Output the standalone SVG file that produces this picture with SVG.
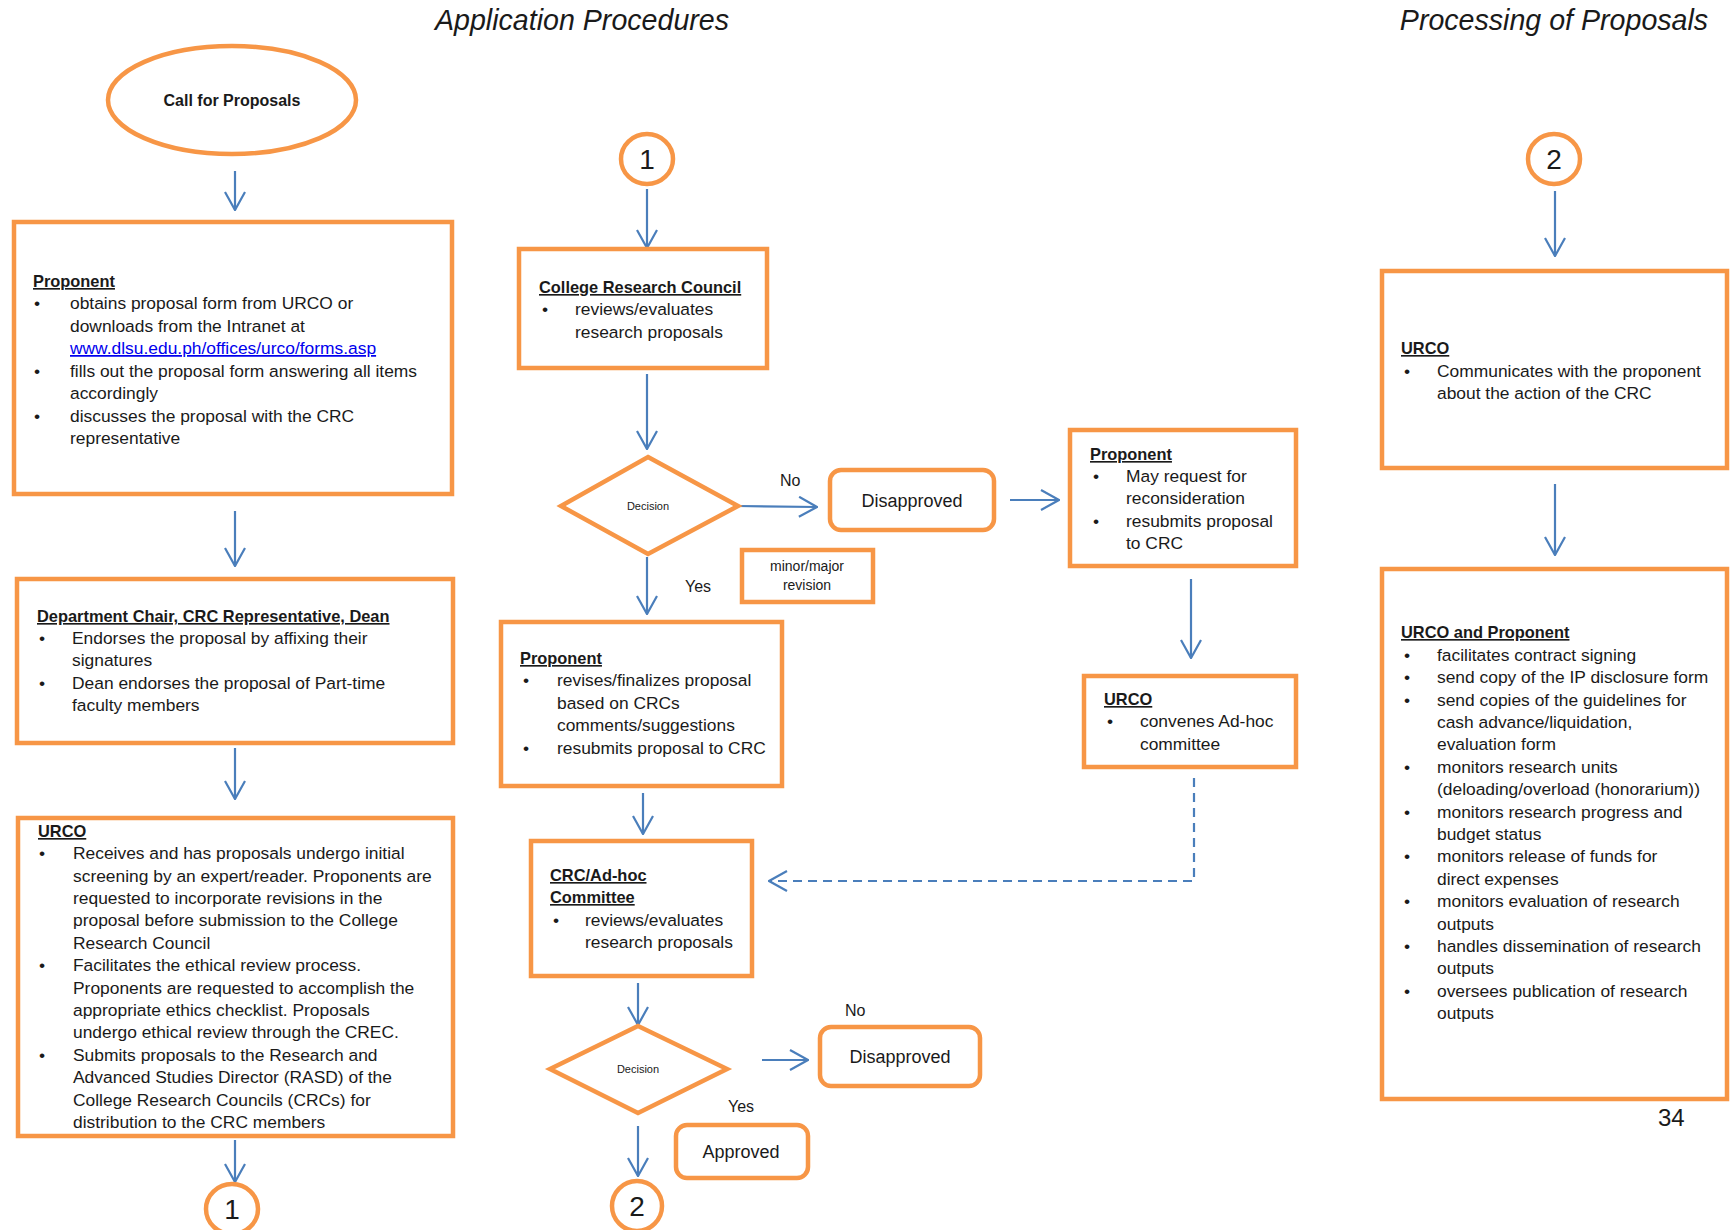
<svg xmlns="http://www.w3.org/2000/svg" width="1735" height="1230" viewBox="0 0 1735 1230">
<style>
text{font-family:"Liberation Sans",Arial,sans-serif;fill:#1a1a1a;}
.box{fill:#fff;stroke:#F79646;stroke-width:4.5;}
.t{font-size:17.4px;}
.h{font-size:16.4px;font-weight:bold;text-decoration:underline;}
.title{font-size:28.6px;font-style:italic;text-anchor:middle;}
.num{font-size:28px;text-anchor:middle;}
.c{text-anchor:middle;}
.lbl{font-size:16px;}
.link{fill:#0000EE;text-decoration:underline;}
.con{fill:none;stroke:#4A7EBB;stroke-width:2.2;}
.dash{stroke-dasharray:9 6;}
</style>
<defs>
<marker id="arr" viewBox="0 0 20 22" refX="19" refY="11" markerWidth="20" markerHeight="22" markerUnits="userSpaceOnUse" orient="auto">
<path d="M1,1 L19,11 L1,21" fill="none" stroke="#4A7EBB" stroke-width="2.2"/>
</marker>
</defs>
<rect width="1735" height="1230" fill="#fff"/>

<text class="title" x="582" y="30">Application Procedures</text>
<text class="title" x="1554" y="30">Processing of Proposals</text>

<g id="connectors">
<line class="con" x1="235" y1="171" x2="235" y2="210" marker-end="url(#arr)"/>
<line class="con" x1="235" y1="511" x2="235" y2="566" marker-end="url(#arr)"/>
<line class="con" x1="235" y1="748" x2="235" y2="799" marker-end="url(#arr)"/>
<line class="con" x1="235" y1="1140" x2="235" y2="1182" marker-end="url(#arr)"/>
<line class="con" x1="647" y1="189" x2="647" y2="248" marker-end="url(#arr)"/>
<line class="con" x1="647" y1="374" x2="647" y2="449" marker-end="url(#arr)"/>
<line class="con" x1="738" y1="506" x2="817" y2="507" marker-end="url(#arr)"/>
<line class="con" x1="1010" y1="500" x2="1059" y2="500" marker-end="url(#arr)"/>
<line class="con" x1="647" y1="557" x2="647" y2="614" marker-end="url(#arr)"/>
<line class="con" x1="1191" y1="579" x2="1191" y2="658" marker-end="url(#arr)"/>
<polyline class="con dash" points="1194,778 1194,881 769,881" marker-end="url(#arr)"/>
<line class="con" x1="643" y1="793" x2="643" y2="834" marker-end="url(#arr)"/>
<line class="con" x1="638" y1="983" x2="638" y2="1025" marker-end="url(#arr)"/>
<line class="con" x1="762" y1="1060" x2="808" y2="1060" marker-end="url(#arr)"/>
<line class="con" x1="638" y1="1126" x2="638" y2="1176" marker-end="url(#arr)"/>
<line class="con" x1="1555" y1="191" x2="1555" y2="256" marker-end="url(#arr)"/>
<line class="con" x1="1555" y1="484" x2="1555" y2="555" marker-end="url(#arr)"/>
</g>

<g id="call-for-proposals">
<ellipse class="box" cx="232" cy="100" rx="124" ry="54"/>
<text class="c" x="232" y="106" style="font-size:16px;font-weight:bold">Call for Proposals</text>
</g>

<g id="proponent-1">
<rect class="box" x="14" y="222" width="438" height="272"/>
<text class="h" x="33" y="287">Proponent</text>
<text class="t"><tspan x="34" y="309">•</tspan><tspan x="70" y="309">obtains proposal form from URCO or</tspan><tspan x="70" y="332">downloads from the Intranet at</tspan></text>
<text class="t link" x="70" y="354">www.dlsu.edu.ph/offices/urco/forms.asp</text>
<text class="t"><tspan x="34" y="377">•</tspan><tspan x="70" y="377">fills out the proposal form answering all items</tspan><tspan x="70" y="399">accordingly</tspan><tspan x="34" y="422">•</tspan><tspan x="70" y="422">discusses the proposal with the CRC</tspan><tspan x="70" y="444">representative</tspan></text>
</g>

<g id="dept-chair">
<rect class="box" x="17" y="579" width="436" height="164"/>
<text class="h" x="37" y="622">Department Chair, CRC Representative, Dean</text>
<text class="t"><tspan x="39" y="644">•</tspan><tspan x="72" y="644">Endorses the proposal by affixing their</tspan><tspan x="72" y="666">signatures</tspan><tspan x="39" y="689">•</tspan><tspan x="72" y="689">Dean endorses the proposal of Part-time</tspan><tspan x="72" y="711">faculty members</tspan></text>
</g>

<g id="urco-1">
<rect class="box" x="18" y="818" width="435" height="318"/>
<text class="h" x="38" y="837">URCO</text>
<text class="t"><tspan x="39" y="859">•</tspan><tspan x="73" y="859">Receives and has proposals undergo initial</tspan><tspan x="73" y="882">screening by an expert/reader. Proponents are</tspan><tspan x="73" y="904">requested to incorporate revisions in the</tspan><tspan x="73" y="926">proposal before submission to the College</tspan><tspan x="73" y="949">Research Council</tspan><tspan x="39" y="971">•</tspan><tspan x="73" y="971">Facilitates the ethical review process.</tspan><tspan x="73" y="994">Proponents are requested to accomplish the</tspan><tspan x="73" y="1016">appropriate ethics checklist. Proposals</tspan><tspan x="73" y="1038">undergo ethical review through the CREC.</tspan><tspan x="39" y="1061">•</tspan><tspan x="73" y="1061">Submits proposals to the Research and</tspan><tspan x="73" y="1083">Advanced Studies Director (RASD) of the</tspan><tspan x="73" y="1106">College Research Councils (CRCs) for</tspan><tspan x="73" y="1128">distribution to the CRC members</tspan></text>
</g>

<g id="connector-1-out">
<ellipse class="box" cx="232" cy="1209" rx="26" ry="25"/>
<text class="num" x="232" y="1219">1</text>
</g>

<g id="connector-1-in">
<ellipse class="box" cx="647" cy="159" rx="26" ry="25"/>
<text class="num" x="647" y="169">1</text>
</g>

<g id="college-research-council">
<rect class="box" x="519" y="249" width="248" height="119"/>
<text class="h" x="539" y="293">College Research Council</text>
<text class="t"><tspan x="542" y="315">•</tspan><tspan x="575" y="315">reviews/evaluates</tspan><tspan x="575" y="338">research proposals</tspan></text>
</g>

<g id="decision-1">
<polygon class="box" points="648,457 738,506 648,554 561,506"/>
<text class="c" x="648" y="510" style="font-size:11px">Decision</text>
</g>
<text class="lbl" x="780" y="486">No</text>
<text class="lbl" x="685" y="592">Yes</text>

<g id="disapproved-1">
<rect class="box" x="830" y="470" width="164" height="60" rx="11"/>
<text class="c" x="912" y="507" style="font-size:18px">Disapproved</text>
</g>

<g id="minor-major-revision">
<rect class="box" x="742" y="550" width="131" height="52"/>
<text class="c" x="807" y="571" style="font-size:14px">minor/major</text>
<text class="c" x="807" y="590" style="font-size:14px">revision</text>
</g>

<g id="proponent-3">
<rect class="box" x="1070" y="430" width="226" height="136"/>
<text class="h" x="1090" y="460">Proponent</text>
<text class="t"><tspan x="1093" y="482">•</tspan><tspan x="1126" y="482">May request for</tspan><tspan x="1126" y="504">reconsideration</tspan><tspan x="1093" y="527">•</tspan><tspan x="1126" y="527">resubmits proposal</tspan><tspan x="1126" y="549">to CRC</tspan></text>
</g>

<g id="urco-2">
<rect class="box" x="1084" y="676" width="212" height="91"/>
<text class="h" x="1104" y="705">URCO</text>
<text class="t"><tspan x="1107" y="727">•</tspan><tspan x="1140" y="727">convenes Ad-hoc</tspan><tspan x="1140" y="750">committee</tspan></text>
</g>

<g id="proponent-2">
<rect class="box" x="501" y="622" width="281" height="164"/>
<text class="h" x="520" y="664">Proponent</text>
<text class="t"><tspan x="523" y="686">•</tspan><tspan x="557" y="686">revises/finalizes proposal</tspan><tspan x="557" y="709">based on CRCs</tspan><tspan x="557" y="731">comments/suggestions</tspan><tspan x="523" y="754">•</tspan><tspan x="557" y="754">resubmits proposal to CRC</tspan></text>
</g>

<g id="crc-adhoc-committee">
<rect class="box" x="531" y="841" width="221" height="135"/>
<text class="h" x="550" y="881">CRC/Ad-hoc</text>
<text class="h" x="550" y="903">Committee</text>
<text class="t"><tspan x="553" y="926">•</tspan><tspan x="585" y="926">reviews/evaluates</tspan><tspan x="585" y="948">research proposals</tspan></text>
</g>

<g id="decision-2">
<polygon class="box" points="638,1026 727,1069 638,1113 550,1069"/>
<text class="c" x="638" y="1073" style="font-size:11px">Decision</text>
</g>
<text class="lbl" x="845" y="1016">No</text>
<text class="lbl" x="728" y="1112">Yes</text>

<g id="disapproved-2">
<rect class="box" x="820" y="1027" width="160" height="59" rx="11"/>
<text class="c" x="900" y="1063" style="font-size:18px">Disapproved</text>
</g>

<g id="approved">
<rect class="box" x="676" y="1125" width="132" height="53" rx="11"/>
<text class="c" x="741" y="1158" style="font-size:18px">Approved</text>
</g>

<g id="connector-2-out">
<ellipse class="box" cx="637" cy="1206" rx="25" ry="25"/>
<text class="num" x="637" y="1216">2</text>
</g>

<g id="connector-2-in">
<ellipse class="box" cx="1554" cy="159" rx="26" ry="25"/>
<text class="num" x="1554" y="169">2</text>
</g>

<g id="urco-3">
<rect class="box" x="1382" y="271" width="345" height="197"/>
<text class="h" x="1401" y="354">URCO</text>
<text class="t"><tspan x="1404" y="377">•</tspan><tspan x="1437" y="377">Communicates with the proponent</tspan><tspan x="1437" y="399">about the action of the CRC</tspan></text>
</g>

<g id="urco-and-proponent">
<rect class="box" x="1382" y="569" width="345" height="530"/>
<text class="h" x="1401" y="638">URCO and Proponent</text>
<text class="t"><tspan x="1404" y="661">•</tspan><tspan x="1437" y="661">facilitates contract signing</tspan><tspan x="1404" y="683">•</tspan><tspan x="1437" y="683">send copy of the IP disclosure form</tspan><tspan x="1404" y="706">•</tspan><tspan x="1437" y="706">send copies of the guidelines for</tspan><tspan x="1437" y="728">cash advance/liquidation,</tspan><tspan x="1437" y="750">evaluation form</tspan><tspan x="1404" y="773">•</tspan><tspan x="1437" y="773">monitors research units</tspan><tspan x="1437" y="795">(deloading/overload (honorarium))</tspan><tspan x="1404" y="818">•</tspan><tspan x="1437" y="818">monitors research progress and</tspan><tspan x="1437" y="840">budget status</tspan><tspan x="1404" y="862">•</tspan><tspan x="1437" y="862">monitors release of funds for</tspan><tspan x="1437" y="885">direct expenses</tspan><tspan x="1404" y="907">•</tspan><tspan x="1437" y="907">monitors evaluation of research</tspan><tspan x="1437" y="930">outputs</tspan><tspan x="1404" y="952">•</tspan><tspan x="1437" y="952">handles dissemination of research</tspan><tspan x="1437" y="974">outputs</tspan><tspan x="1404" y="997">•</tspan><tspan x="1437" y="997">oversees publication of research</tspan><tspan x="1437" y="1019">outputs</tspan></text>
</g>

<text x="1658" y="1126" style="font-size:24px">34</text>
</svg>
